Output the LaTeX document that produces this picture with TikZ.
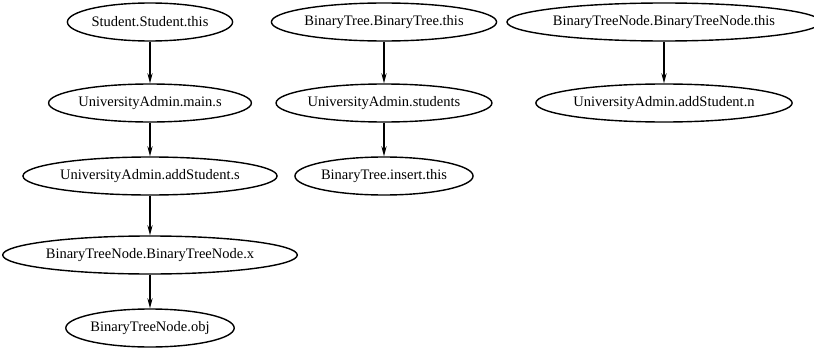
\documentclass[tikz,border=0pt]{standalone}
\usepackage{fontspec}
\setmainfont{Liberation Serif}
\usetikzlibrary{arrows.meta}
\usetikzlibrary{shapes.geometric}

\begin{document}
\begin{tikzpicture} [x=.5pt, y=.5pt,
  var/.style={draw, ellipse, line width=.7pt, inner xsep=0pt, minimum height=19pt, font=\fontsize{7.25}{8}\selectfont},
  flow/.style={line width=.7pt, -{Stealth[length=5pt, width=2.6pt]}}]
\useasboundingbox (0,0) rectangle (814,349);

\node[var] (stuthis) at (150,327) {Student.Student.this};
\node[var] (mains) at (150,246) {UniversityAdmin.main.s};
\node[var] (adds) at (150,173) {UniversityAdmin.addStudent.s};
\node[var] (btnx) at (150,94) {BinaryTreeNode.BinaryTreeNode.x};
\node[var] (btnobj) at (150,21) {BinaryTreeNode.obj};

\node[var] (btthis) at (384,327) {BinaryTree.BinaryTree.this};
\node[var] (students) at (384,246) {UniversityAdmin.students};
\node[var] (insthis) at (384,173) {BinaryTree.insert.this};

\node[var] (btnthis) at (664,327) {BinaryTreeNode.BinaryTreeNode.this};
\node[var] (addn) at (664,246) {UniversityAdmin.addStudent.n};

\draw[flow] (stuthis) -- (mains);
\draw[flow] (mains) -- (adds);
\draw[flow] (adds) -- (btnx);
\draw[flow] (btnx) -- (btnobj);
\draw[flow] (btthis) -- (students);
\draw[flow] (students) -- (insthis);
\draw[flow] (btnthis) -- (addn);

\end{tikzpicture}
\end{document}
